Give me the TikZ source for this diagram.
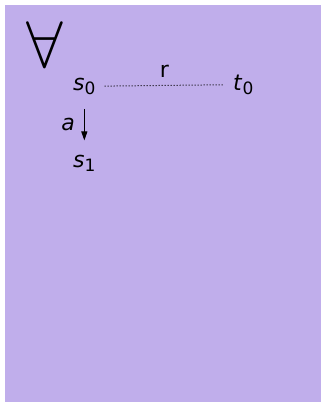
\documentclass[tikz,border=0pt]{standalone}
\usepackage{fontspec}
\setmainfont{DejaVu Sans}
\usepackage{tikz}
\usetikzlibrary{arrows.meta}
\definecolor{panelpurple}{RGB}{192,174,235}
\tikzset{
  state/.style={
    inner sep=0pt, anchor=base west,
    font=\fontsize{22}{26}\selectfont
  },
  lbl/.style={inner sep=0pt, font=\fontsize{22}{26}\selectfont},
  rel/.style={dotted, line width=1pt, draw=black},
  step arrow/.style={-{Triangle[width=6pt,length=9pt]}, line width=1pt}
}
\newcommand{\stname}[2]{\textit{#1}\raisebox{-4.5pt}{\fontsize{17}{20}\selectfont #2}}

\begin{document}
\begin{tikzpicture}[x=1pt, y=-1pt]
  \useasboundingbox (0,0) rectangle (321,402);
  \fill[panelpurple] (5,5) rectangle (321,402);
  \node[inner sep=0pt] (q) at (45,45) {\scalebox{6.6}{$\forall$}};
  \node[state] (s0) at (73,90) {\stname{s}{0}};
  \node[state] (t0) at (233,90) {\stname{t}{0}};
  \node[state] (s1) at (73,167) {\stname{s}{1}};
  \draw[rel, shorten <=9pt, shorten >=9pt] (s0.east) -- (t0.west)
    node[lbl, midway, above=7pt] {r};
  \draw[step arrow, shorten <=14pt, shorten >=14pt] (s0.south) -- (s1.north)
    node[lbl, midway, left=9pt] {\textit{a}};
\end{tikzpicture}
\end{document}
